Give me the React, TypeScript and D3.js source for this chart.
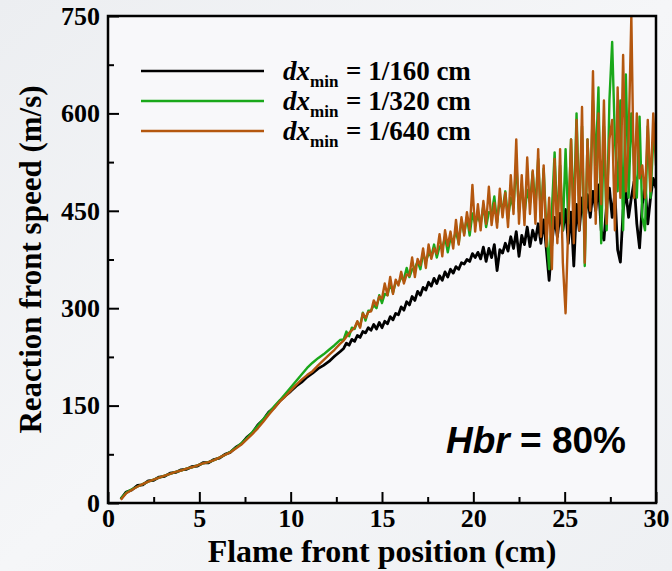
import React, { useEffect, useRef } from 'react'
import * as d3 from 'd3'

// x sampling grid (cm): coarse where curves are smooth, finer where they get noisy
const xsSmooth = d3.range(0.7, 12.71, 0.3)
const xsNoisy = d3.range(12.9, 30.01, 0.15)
const positions = xsSmooth.concat(xsNoisy)

// Reaction front speed (m/s)
const speed160 = [
  6, 17, 20, 27, 28, 34, 35, 40, 41, 46, 47, 51, 52, 56, 57, 62, 62, 67, 69, 75,
  78, 86, 91, 101, 108, 120, 128, 140, 147, 157, 165, 172, 180, 186, 194, 200, 207, 212, 218, 226, 233,
  238, 246, 243, 252, 249, 258, 255, 264, 262, 270,
  266, 275, 268, 278, 270, 280, 276, 287, 282, 292,
  290, 302, 297, 310, 305, 318, 312, 326, 320, 332,
  328, 340, 334, 346, 338, 350, 343, 356, 348, 360,
  354, 364, 360, 370, 368, 375, 372, 384, 378, 386,
  376, 394, 372, 392, 378, 398, 358, 390, 385, 400,
  388, 410, 392, 418, 380, 412, 398, 425, 395, 420,
  405, 430, 400, 436, 390, 343, 400, 440, 410, 446,
  420, 452, 400, 448, 365, 460, 420, 470, 430, 475,
  440, 480, 450, 490, 420, 405, 460, 485, 440, 478,
  390, 371, 450, 480, 440, 470, 495, 430, 393, 460,
  490, 430, 470, 500, 485,
]

const speed320 = [
  7, 16, 21, 25, 29, 33, 36, 39, 42, 45, 48, 50, 53, 55, 58, 61, 63, 66, 70, 74,
  79, 85, 92, 100, 109, 119, 129, 139, 149, 158, 168, 178, 188, 198, 208, 216, 223, 229, 236, 243, 251,
  252, 264, 257, 270, 268, 279, 272, 293, 281, 296,
  296, 305, 300, 320, 308, 322, 320, 338, 324, 340,
  338, 347, 345, 362, 348, 360, 362, 372, 360, 384,
  372, 384, 380, 398, 378, 395, 392, 410, 386, 408,
  404, 418, 400, 436, 415, 440, 412, 446, 430, 442,
  430, 458, 425, 448, 445, 472, 432, 468, 450, 480,
  438, 470, 455, 525, 448, 490, 445, 482, 462, 510,
  455, 530, 440, 515, 420, 360, 450, 540, 430, 520,
  420, 545, 430, 560, 440, 600, 450, 580, 365, 560,
  470, 620, 520, 640, 400, 580, 420, 620, 710, 560,
  480, 620, 420, 660, 470, 600, 520, 470, 595, 440,
  420, 580, 470, 560, 540,
]

const speed640 = [
  5, 15, 20, 25, 29, 33, 36, 39, 42, 45, 48, 50, 53, 55, 58, 61, 63, 66, 70, 74,
  78, 84, 90, 98, 106, 115, 125, 136, 146, 156, 164, 173, 182, 190, 197, 203, 212, 220, 228, 236, 245,
  250, 256, 262, 266, 270, 280, 270, 292, 285, 294,
  295, 312, 304, 318, 315, 338, 320, 348, 322, 344,
  335, 356, 338, 352, 350, 378, 348, 376, 366, 392,
  362, 398, 376, 392, 384, 414, 380, 420, 396, 418,
  392, 436, 398, 440, 412, 448, 420, 490, 418, 460,
  420, 465, 430, 487, 428, 462, 424, 484, 440, 478,
  425, 505, 445, 560, 430, 505, 428, 532, 445, 512,
  430, 545, 410, 520, 395, 470, 360, 530, 400, 545,
  370, 292, 430, 560, 400, 590, 420, 610, 370, 560,
  450, 665, 430, 600, 460, 620, 430, 560, 590, 420,
  640, 470, 690, 480, 560, 750, 470, 600, 500, 520,
  470, 590, 480, 600, 520,
]

const seriesNames = ['1/160 cm', '1/320 cm', '1/640 cm']
const seriesColors = ['#000000', '#1aa81a', '#b4570f']
const xTicks = [0, 5, 10, 15, 20, 25, 30]
const xMinorTicks = [2.5, 7.5, 12.5, 17.5, 22.5, 27.5]
const yTicks = [0, 150, 300, 450, 600, 750]
const yMinorTicks = [75, 225, 375, 525, 675]

function App() {
  const svgRef = useRef<SVGSVGElement>(null)

  useEffect(() => {
    const width = 672
    const height = 571
    const m = { left: 108, right: 16, top: 16, bottom: 68 }
    const innerW = width - m.left - m.right
    const innerH = height - m.top - m.bottom
    const serif = "'Liberation Serif', 'Times New Roman', serif"

    const svg = d3.select(svgRef.current)
    svg.selectAll('*').remove()
    svg.attr('width', width).attr('height', height)

    const defs = svg.append('defs')
    const grad = defs.append('linearGradient').attr('id', 'bg')
      .attr('x1', '0').attr('y1', '0').attr('x2', '1').attr('y2', '1')
    grad.append('stop').attr('offset', '0%').attr('stop-color', '#eceef1')
    grad.append('stop').attr('offset', '50%').attr('stop-color', '#f5f6f8')
    grad.append('stop').attr('offset', '100%').attr('stop-color', '#eef0f3')
    defs.append('clipPath').attr('id', 'plotClip')
      .append('rect').attr('width', innerW).attr('height', innerH)

    svg.append('rect').attr('width', width).attr('height', height).attr('fill', 'url(#bg)')

    const x = d3.scaleLinear().domain([0, 30]).range([0, innerW])
    const y = d3.scaleLinear().domain([0, 750]).range([innerH, 0])

    const g = svg.append('g').attr('transform', `translate(${m.left},${m.top})`)
    g.append('rect').attr('width', innerW).attr('height', innerH).attr('fill', '#f8f8fa')

    // series
    const line = d3.line<number>()
      .x((d, i) => x(positions[i]))
      .y((d) => y(d))
    const plot = g.append('g').attr('clip-path', 'url(#plotClip)')
    ;[speed160, speed320, speed640].forEach((s, k) => {
      plot.append('path')
        .datum(s)
        .attr('d', line)
        .attr('fill', 'none')
        .attr('stroke', seriesColors[k])
        .attr('stroke-width', k === 0 ? 2.8 : 2.4)
        .attr('stroke-linejoin', 'round')
    })

    // axes with inward ticks
    const xAxis = g.append('g').attr('transform', `translate(0,${innerH})`)
      .call(d3.axisBottom(x).tickValues(xTicks).tickSize(-11).tickPadding(6).tickFormat(d3.format('d')))
    const xMinor = g.append('g').attr('transform', `translate(0,${innerH})`)
      .call(d3.axisBottom(x).tickValues(xMinorTicks).tickSize(-6).tickFormat(() => ''))
    const yAxis = g.append('g')
      .call(d3.axisLeft(y).tickValues(yTicks).tickSize(-11).tickPadding(8).tickFormat(d3.format('d')))
    const yMinor = g.append('g')
      .call(d3.axisLeft(y).tickValues(yMinorTicks).tickSize(-6).tickFormat(() => ''))
    ;[xAxis, xMinor, yAxis, yMinor].forEach((a) => {
      a.select('.domain').remove()
      a.selectAll('line').attr('stroke', '#000').attr('stroke-width', 2)
      a.selectAll('text')
        .attr('fill', '#000')
        .style('font-family', serif)
        .style('font-weight', 'bold')
        .style('font-size', '26px')
    })

    // frame
    g.append('rect').attr('width', innerW).attr('height', innerH)
      .attr('fill', 'none').attr('stroke', '#000').attr('stroke-width', 2.5)

    // axis titles
    svg.append('text')
      .attr('x', m.left + innerW / 2).attr('y', 562)
      .attr('text-anchor', 'middle')
      .style('font-family', serif).style('font-weight', 'bold').style('font-size', '32px')
      .text('Flame front position (cm)')
    svg.append('text')
      .attr('transform', `translate(41,${m.top + innerH / 2}) rotate(-90)`)
      .attr('text-anchor', 'middle')
      .style('font-family', serif).style('font-weight', 'bold').style('font-size', '31px')
      .text('Reaction front speed (m/s)')

    // legend
    seriesNames.forEach((name, k) => {
      const ly = 71 + k * 30
      svg.append('line')
        .attr('x1', 141).attr('x2', 264).attr('y1', ly).attr('y2', ly)
        .attr('stroke', seriesColors[k]).attr('stroke-width', 2.5)
      const t = svg.append('text').attr('x', 283).attr('y', ly + 9)
        .style('font-family', serif).style('font-weight', 'bold').style('font-size', '27px')
      t.append('tspan').style('font-style', 'italic').text('dx')
      t.append('tspan').attr('dy', 7).style('font-size', '17px').text('min')
      svg.append('text').attr('x', 346).attr('y', ly + 9)
        .style('font-family', serif).style('font-weight', 'bold').style('font-size', '27px')
        .text(`= ${name}`)
    })

    // annotation
    const ann = svg.append('text').attr('x', 446).attr('y', 453)
      .style('font-family', "'Liberation Sans', Arial, sans-serif")
      .style('font-weight', 'bold').style('font-size', '37px')
    ann.append('tspan').style('font-style', 'italic').text('Hbr')
    ann.append('tspan').text(' = 80%')
  }, [])

  return (
    <svg ref={svgRef} style={{ position: 'absolute', left: 0, top: 0, display: 'block' }}></svg>
  )
}

export default App
